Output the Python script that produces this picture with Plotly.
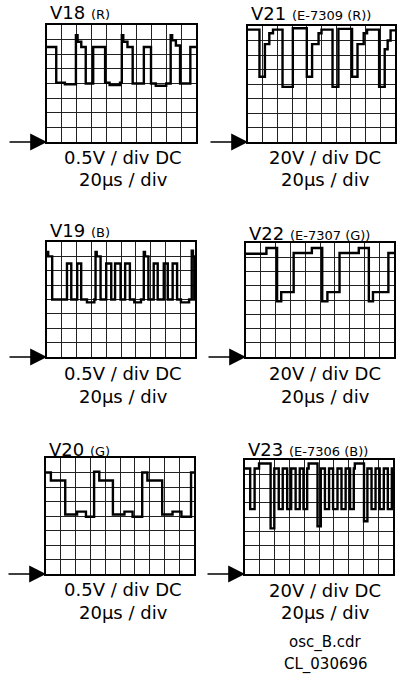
import plotly.graph_objects as go

W, H = 397, 682

# scope traces in divisions (x: 0-10 div, y: 0-8 div)
v18_t = [0, 0.62, 1.2, 1.94, 2.05, 2.3, 2.6, 3.1, 3.9, 4.2, 4.9, 5.02, 5.12, 5.4, 5.75, 6.5, 6.98, 7.3, 8.0, 8.3, 8.4, 8.65, 8.93, 9.62, 10]
v18_v = [6.5, 4.05, 3.95, 7.3, 6.85, 6.5, 4.0, 6.5, 4.05, 3.9, 4.05, 7.3, 6.85, 6.5, 4.0, 6.5, 4.0, 3.85, 4.0, 7.3, 6.95, 6.6, 4.0, 6.5, 6.5]

v21_t = [0, 0.78, 1.15, 1.45, 1.7, 2.35, 3.05, 4.0, 4.36, 4.8, 5.0, 5.75, 6.15, 7.08, 7.45, 7.87, 8.1, 8.92, 9.3, 9.5, 9.7, 10]
v21_v = [7.75, 4.5, 6.75, 7.5, 7.75, 3.8, 7.85, 4.5, 6.75, 7.5, 7.75, 3.8, 7.8, 4.5, 6.75, 7.5, 7.75, 3.8, 6.4, 7.0, 7.7, 7.7]

v19_t = [0, 0.08, 0.35, 1.35, 1.64, 2.04, 2.31, 2.7, 3.2, 3.28, 3.36, 3.62, 4.0, 4.34, 4.6, 4.97, 5.28, 5.6, 5.9, 6.35,
         6.54, 6.62, 6.85, 7.21, 7.48, 7.89, 8.16, 8.49, 8.79, 9.05, 9.6, 9.78, 9.86, 9.95, 10]
v19_v = [7.3, 7.0, 4.0, 6.5, 4.0, 6.5, 4.0, 3.8, 4.0, 7.3, 7.0, 4.0, 6.5, 4.0, 6.5, 4.0, 6.5, 4.0, 3.8, 4.0,
         7.3, 7.0, 4.0, 6.5, 4.0, 6.5, 4.0, 6.5, 4.0, 3.8, 4.0, 7.4, 7.0, 4.0, 4.0]

v22_t = [0, 1.38, 2.1, 2.38, 3.22, 4.45, 5.15, 5.5, 6.32, 7.62, 8.3, 8.58, 9.62, 10]
v22_v = [7.25, 7.65, 3.9, 4.55, 7.3, 7.65, 3.9, 4.55, 7.3, 7.65, 3.9, 4.55, 7.3, 7.3]

v20_t = [0, 0.33, 1.3, 2.1, 2.7, 3.25, 3.6, 4.52, 5.3, 5.85, 6.5, 6.85, 7.85, 8.55, 9.15, 9.8, 10]
v20_v = [7.0, 6.45, 4.1, 4.3, 3.95, 7.05, 6.45, 4.1, 4.3, 3.95, 7.0, 6.45, 4.1, 4.3, 3.95, 7.0, 7.0]

v23_t = [0, 0.35, 0.65, 0.95, 1.73, 1.98, 2.28, 2.55, 2.85, 3.12, 3.42, 3.7, 3.95, 4.2, 4.3,
         4.9, 5.12, 5.4, 5.68, 5.95, 6.25, 6.52, 6.8, 7.1, 7.35, 7.42,
         8.04, 8.27, 8.55, 8.82, 9.1, 9.38, 9.65, 9.92, 10]
v23_v = [7.4, 4.55, 7.4, 7.75, 3.2, 7.4, 4.55, 7.4, 4.55, 7.4, 4.55, 7.4, 4.55, 7.4, 7.75,
         3.35, 7.4, 4.55, 7.4, 4.55, 7.4, 4.55, 7.4, 4.55, 7.4, 7.75,
         3.7, 7.4, 4.55, 7.4, 4.55, 7.4, 4.55, 7.4, 4.55]

names = ["V18", "V21", "V19", "V22", "V20", "V23"]
subs = ["(R)", "(E-7309 (R))", "(B)", "(E-7307 (G))", "(G)", "(E-7306 (B))"]
volt_labels = ["0.5V / div DC", "20V / div DC", "0.5V / div DC", "20V / div DC", "0.5V / div DC", "20V / div DC"]
time_label = "20µs / div"
footer = ["osc_B.cdr", "CL_030696"]

traces = [(v18_t, v18_v), (v21_t, v21_v), (v19_t, v19_v), (v22_t, v22_v), (v20_t, v20_v), (v23_t, v23_v)]

# screen boxes in pixels: left, right, top, bottom
boxes = [(47, 196, 25, 142), (248, 395, 26, 142),
         (47, 195, 242, 357), (246, 394, 243, 357),
         (46, 194, 458, 574), (245, 393, 460, 574)]
title_y = [13, 14, 231, 234, 449, 449]
volt_y = [157, 157, 374, 374, 589, 590]
time_y = [179, 179, 396, 396, 612, 612]

FONT = "DejaVu Sans"


def px(x):
    return x / W


def py(y):
    return 1 - y / H


fig = go.Figure()
layout = {}
annots = []
for i, (t, v) in enumerate(traces):
    s = "" if i == 0 else str(i + 1)
    l, r, top, b = boxes[i]
    fig.add_trace(go.Scatter(x=t, y=v, xaxis="x" + s, yaxis="y" + s, mode="lines",
                             line=dict(color="black", width=2.4, shape="hv"),
                             hoverinfo="skip", showlegend=False))
    ax_style = dict(showgrid=True, gridcolor="#222", gridwidth=1, showline=True, linecolor="black",
                    linewidth=1.5, mirror=True, showticklabels=False, ticks="", zeroline=False,
                    fixedrange=True, tick0=0, dtick=1)
    layout["xaxis" + s] = dict(domain=[px(l), px(r)], range=[0, 10], anchor="y" + s, **ax_style)
    layout["yaxis" + s] = dict(domain=[py(b), py(top)], range=[0, 8], anchor="x" + s, **ax_style)

    # ground marker arrow
    annots.append(dict(xref="x" + s, yref="y" + s, x=0, y=0, ax=-39, ay=0, text="",
                       showarrow=True, arrowhead=2, arrowsize=2.1, arrowwidth=1.6, arrowcolor="black"))
    annots.append(dict(xref="paper", yref="paper", x=px(l + 1), y=py(title_y[i]),
                       xanchor="left", yanchor="middle", showarrow=False,
                       text=names[i] + " <span style='font-size:13px'>" + subs[i] + "</span>",
                       font=dict(family=FONT, size=18, color="black")))
    cx = 123 if i % 2 == 0 else 325
    annots.append(dict(xref="paper", yref="paper", x=px(cx), y=py(volt_y[i]),
                       xanchor="center", yanchor="middle", showarrow=False, text=volt_labels[i],
                       font=dict(family=FONT, size=18, color="black")))
    annots.append(dict(xref="paper", yref="paper", x=px(cx), y=py(time_y[i]),
                       xanchor="center", yanchor="middle", showarrow=False, text=time_label,
                       font=dict(family=FONT, size=18, color="black")))

annots.append(dict(xref="paper", yref="paper", x=px(325), y=py(642), xanchor="center", yanchor="middle",
                   showarrow=False, text=footer[0], font=dict(family=FONT, size=15, color="black")))
annots.append(dict(xref="paper", yref="paper", x=px(326), y=py(664), xanchor="center", yanchor="middle",
                   showarrow=False, text=footer[1], font=dict(family=FONT, size=15, color="black")))

fig.update_layout(width=W, height=H, margin=dict(t=0, l=0, r=0, b=0),
                  paper_bgcolor="white", plot_bgcolor="white",
                  annotations=annots, **layout)

# the page body has a default 8px margin; drop it so the figure fills the window
fig.write_html("out.html", config={"displayModeBar": False},
               post_script="document.body.style.margin='0';")
